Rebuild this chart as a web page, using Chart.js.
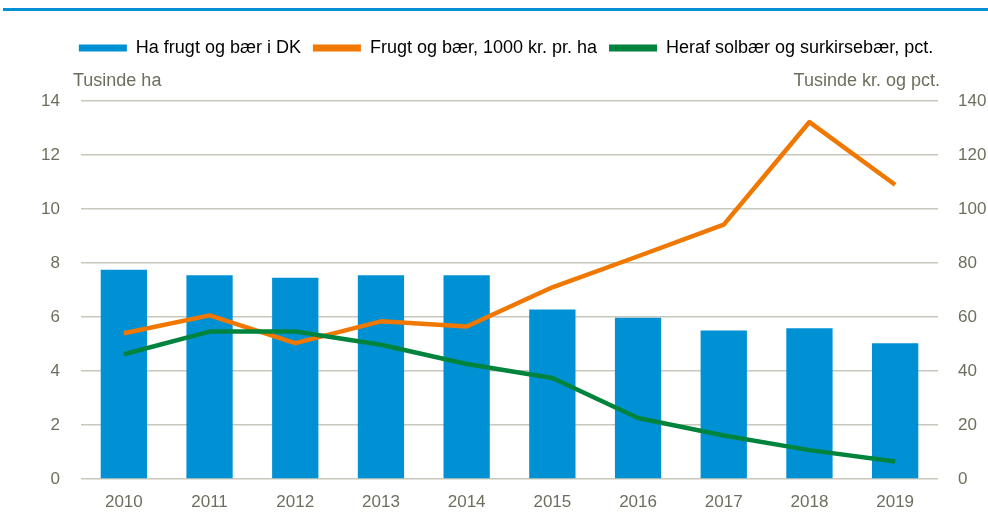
<!DOCTYPE html>
<html>
<head>
<meta charset="utf-8">
<script src="https://cdn.jsdelivr.net/npm/chart.js@4"></script>
<style>
  body { margin: 0; background: #fff; }
  #wrap { width: 988px; height: 522px; position: relative; }
</style>
</head>
<body>
<div id="wrap"><canvas id="myChart" width="988" height="522"></canvas></div>
<script>
const years = ['2010', '2011', '2012', '2013', '2014', '2015', '2016', '2017', '2018', '2019']
const haFrugt = [7.75, 7.55, 7.45, 7.55, 7.55, 6.28, 5.97, 5.5, 5.58, 5.03]
const kronerPrHa = [54, 60.6, 50.3, 58.4, 56.5, 71, 82.5, 94.2, 132.2, 109]
const solbaerPct = [46.2, 54.6, 54.6, 49.7, 42.6, 37.4, 22.6, 16.1, 10.7, 6.5]

const leftTitle = 'Tusinde ha'
const rightTitle = 'Tusinde kr. og pct.'

const FONT = "'Liberation Sans', Arial, sans-serif"
const TEXT = '#6e6e5e'
const BLUE = '#0090d4'
const ORANGE = '#f07800'
const GREEN = '#00843d'

Chart.defaults.font.family = FONT
Chart.defaults.font.size = 17
Chart.defaults.color = TEXT

// blue rule at the top + the two axis titles
const extras = {
  id: 'extras',
  beforeInit(chart) {
    const fit = chart.legend.fit
    chart.legend.fit = function () {
      fit.bind(chart.legend)()
      this.height += 34
    }
  },
  afterLayout(chart) {
    // legend sits a bit right of centre in the original
    chart.legend.left += 12
    chart.legend.right += 12
  },
  beforeDraw(chart) {
    const ctx = chart.ctx
    ctx.save()
    ctx.fillStyle = BLUE
    ctx.fillRect(3, 8, 985, 3)
    ctx.restore()
  },
  afterDraw(chart) {
    const ctx = chart.ctx
    const a = chart.chartArea
    ctx.save()
    ctx.font = '18px ' + FONT
    ctx.fillStyle = TEXT
    ctx.textBaseline = 'middle'
    ctx.textAlign = 'left'
    ctx.fillText(leftTitle, 73, a.top - 20)
    ctx.textAlign = 'right'
    ctx.fillText(rightTitle, a.right + 2, a.top - 20)
    ctx.restore()
  }
}

var ctx = document.getElementById('myChart').getContext('2d')

var myChart = new Chart(ctx, {
  data: {
    labels: years,
    datasets: [
      {
        type: 'bar',
        label: 'Ha frugt og bær i DK',
        data: haFrugt,
        backgroundColor: BLUE,
        yAxisID: 'y',
        barPercentage: 0.54,
        categoryPercentage: 1,
        order: 2
      },
      {
        type: 'line',
        label: 'Frugt og bær, 1000 kr. pr. ha',
        data: kronerPrHa,
        borderColor: ORANGE,
        backgroundColor: ORANGE,
        borderWidth: 4.5,
        pointRadius: 0,
        tension: 0,
        borderJoinStyle: 'round',
        yAxisID: 'y1',
        order: 1
      },
      {
        type: 'line',
        label: 'Heraf solbær og surkirsebær, pct.',
        data: solbaerPct,
        borderColor: GREEN,
        backgroundColor: GREEN,
        borderWidth: 4.5,
        pointRadius: 0,
        tension: 0,
        borderJoinStyle: 'round',
        yAxisID: 'y1',
        order: 0
      }
    ]
  },
  options: {
    responsive: false,
    animation: false,
    layout: { padding: { top: 27, left: 0, right: 0, bottom: 0 } },
    plugins: {
      tooltip: { enabled: false },
      legend: {
        position: 'top',
        align: 'center',
        labels: {
          boxWidth: 48,
          boxHeight: 7,
          padding: 12,
          font: { size: 18 },
          generateLabels(chart) {
            return chart.data.datasets.map((ds, i) => ({
              text: ds.label,
              fillStyle: ds.backgroundColor,
              strokeStyle: ds.backgroundColor,
              lineWidth: 0,
              hidden: false,
              datasetIndex: i
            }))
          }
        }
      }
    },
    scales: {
      x: {
        grid: { display: false },
        border: { display: false },
        ticks: { padding: 5 },
        afterFit(scale) { scale.height = 43 }
      },
      y: {
        position: 'left',
        min: 0,
        max: 14,
        ticks: { stepSize: 2, padding: 21 },
        grid: { color: '#c8c8bd', lineWidth: 1.5, drawTicks: false },
        border: { display: false },
        afterFit(scale) { scale.width = 81 }
      },
      y1: {
        position: 'right',
        min: 0,
        max: 140,
        ticks: { stepSize: 20, padding: 20 },
        grid: { drawOnChartArea: false, drawTicks: false },
        border: { display: false },
        afterFit(scale) { scale.width = 50 }
      }
    }
  },
  plugins: [extras]
})
</script>
</body>
</html>
